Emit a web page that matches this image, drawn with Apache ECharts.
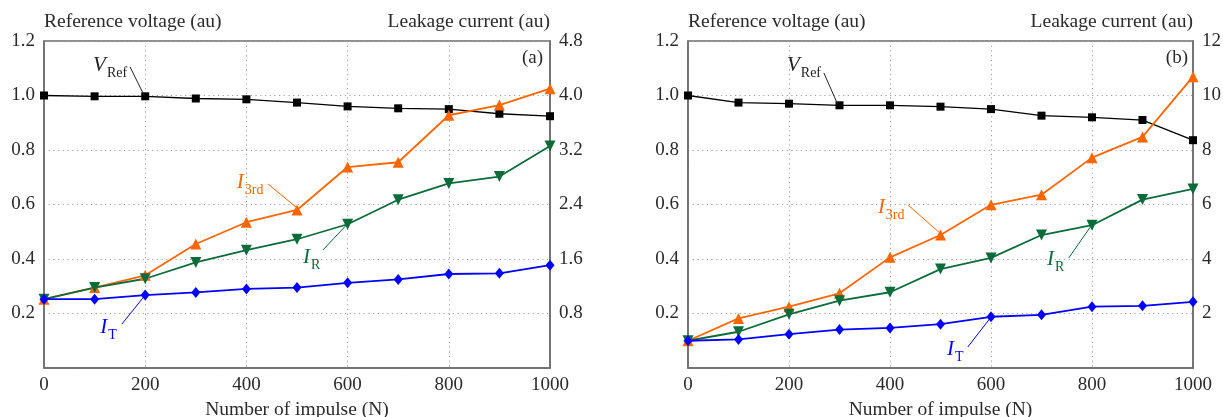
<!DOCTYPE html>
<html>
<head>
<meta charset="utf-8">
<script src="https://cdn.jsdelivr.net/npm/echarts@6/dist/echarts.min.js"></script>
<style>
html,body{margin:0;padding:0;background:#fff;}
#c{width:1223px;height:417px;}
</style>
</head>
<body>
<div id="c"></div>
<script>
// ---- data ----
const impulses = [0, 100, 200, 300, 400, 500, 600, 700, 800, 900, 1000];
const xTicks = [0, 200, 400, 600, 800, 1000];
// Panel (a)
const vrefA = [1.0, 0.997, 0.997, 0.989, 0.986, 0.974, 0.960, 0.953, 0.950, 0.933, 0.924];
const i3rdA = [1.01, 1.18, 1.36, 1.82, 2.14, 2.32, 2.95, 3.02, 3.71, 3.86, 4.10];
const irA   = [1.01, 1.18, 1.31, 1.55, 1.73, 1.89, 2.11, 2.47, 2.71, 2.81, 3.26];
const itA   = [1.01, 1.01, 1.07, 1.11, 1.16, 1.18, 1.25, 1.30, 1.38, 1.39, 1.51];
// Panel (b)
const vrefB = [1.0, 0.974, 0.970, 0.964, 0.964, 0.959, 0.950, 0.926, 0.920, 0.910, 0.836];
const i3rdB = [1.0, 1.82, 2.25, 2.74, 4.06, 4.88, 5.99, 6.36, 7.72, 8.48, 10.69];
const irB   = [1.0, 1.33, 1.97, 2.47, 2.78, 3.63, 4.04, 4.88, 5.24, 6.18, 6.57];
const itB   = [1.0, 1.05, 1.24, 1.41, 1.47, 1.61, 1.88, 1.95, 2.25, 2.28, 2.43];
// axis ranges
const leftAxisMax = 1.2, leftAxisInterval = 0.2;
const rightAxisA = {max: 4.8, interval: 0.8};
const rightAxisB = {max: 12, interval: 2};
// annotation anchors (data coords): label position, leader start, leader end
const notesA = {
  vref: {label: [97, 1.112], from: [170, 1.105], to: [198, 1.0], sub: 'Ref', main: 'V'},
  i3rd: {label: [381, 2.73], from: [443, 2.70], to: [500, 2.35], sub: '3rd', main: 'I'},
  ir:   {label: [512, 1.63], from: [551, 1.73], to: [599, 2.11], sub: 'R', main: 'I'},
  it:   {label: [111, 0.60], from: [154, 0.646], to: [200, 1.07], sub: 'T', main: 'I'}
};
const notesB = {
  vref: {label: [196, 1.112], from: [269, 1.083], to: [297, 0.965], sub: 'Ref', main: 'V'},
  i3rd: {label: [376, 5.91], from: [436, 5.98], to: [499, 4.95], sub: '3rd', main: 'I'},
  ir:   {label: [711, 4.00], from: [754, 4.04], to: [798, 5.21], sub: 'R', main: 'I'},
  it:   {label: [513, 0.70], from: [554, 0.77], to: [600, 1.87], sub: 'T', main: 'I'}
};

const FONT = '"Liberation Serif", "DejaVu Serif", serif';
const TXT = '#2a2a2a';
const AXIS = '#6b6b6b';
const C_V = '#000000', C_3 = '#ff6600', C_R = '#0b6b3a', C_T = '#0000ff';

const chart = echarts.init(document.getElementById('c'), null, {renderer: 'canvas'});

function pairs(arr) { return impulses.map((x, i) => [x, arr[i]]); }

function note(n, color) {
  return {
    markPoint: {
      silent: true, animation: false,
      symbol: 'circle', symbolSize: 0,
      data: [{coord: n.label}],
      label: {
        show: true, position: 'right', distance: 0,
        formatter: '{m|' + n.main + '}{s|' + n.sub + '}',
        rich: {
          m: {fontFamily: FONT, fontStyle: 'italic', fontSize: 21, color: color, lineHeight: 20, verticalAlign: 'top'},
          s: {fontFamily: FONT, fontSize: 14, color: color, lineHeight: 13, padding: [11, 0, 0, 1], verticalAlign: 'top'}
        }
      }
    },
    markLine: {
      silent: true, animation: false,
      symbol: ['none', 'none'],
      lineStyle: {color: color, width: 1, type: 'solid'},
      label: {show: false},
      emphasis: {disabled: true},
      data: [[{coord: n.from}, {coord: n.to}]]
    }
  };
}

function panel(idx, vref, i3rd, ir, it, notes) {
  const yL = idx * 2, yR = idx * 2 + 1;
  const base = {type: 'line', xAxisIndex: idx, animation: false, z: 3};
  return [
    Object.assign({}, base, {name: 'VRef', yAxisIndex: yL, data: pairs(vref), symbol: 'rect', symbolSize: 8,
      lineStyle: {color: C_V, width: 1.3}, itemStyle: {color: C_V}}, note(notes.vref, '#222')),
    Object.assign({}, base, {name: 'I3rd', yAxisIndex: yR, data: pairs(i3rd), symbol: 'triangle', symbolSize: 11,
      lineStyle: {color: C_3, width: 1.8}, itemStyle: {color: C_3}}, note(notes.i3rd, C_3)),
    Object.assign({}, base, {name: 'IR', yAxisIndex: yR, data: pairs(ir), symbol: 'triangle', symbolRotate: 180, symbolSize: 11,
      lineStyle: {color: C_R, width: 1.8}, itemStyle: {color: C_R}}, note(notes.ir, C_R)),
    Object.assign({}, base, {name: 'IT', yAxisIndex: yR, data: pairs(it), symbol: 'diamond', symbolSize: [9, 11],
      lineStyle: {color: C_T, width: 1.8}, itemStyle: {color: C_T}}, note(notes.it, C_T))
  ];
}

const labelStyle = {fontFamily: FONT, fontSize: 19, color: TXT};
const nameStyle = {fontFamily: FONT, fontSize: 19.5, color: TXT};

function xAxis(idx) {
  return {
    type: 'value', gridIndex: idx, min: xTicks[0], max: xTicks[xTicks.length - 1], interval: xTicks[1] - xTicks[0],
    name: 'Number of impulse (N)', nameLocation: 'middle', nameGap: 29,
    nameTextStyle: Object.assign({}, nameStyle),
    axisLine: {show: true, lineStyle: {color: AXIS, width: 1.5}},
    axisTick: {show: false},
    axisLabel: Object.assign({margin: 8, formatter: v => String(v)}, labelStyle),
    splitLine: {show: true, lineStyle: {color: '#a0a0a0', type: [1.2, 3.5], width: 1}}
  };
}
function yLeft(idx) {
  return {
    type: 'value', gridIndex: idx, position: 'left', min: 0, max: leftAxisMax, interval: leftAxisInterval,
    name: 'Reference voltage (au)', nameLocation: 'end', nameGap: 19,
    nameTextStyle: Object.assign({align: 'left', verticalAlign: 'middle'}, nameStyle),
    axisLine: {show: true, lineStyle: {color: AXIS, width: 1.5}},
    axisTick: {show: false},
    axisLabel: Object.assign({margin: 9, formatter: v => v === 0 ? '' : v.toFixed(1)}, labelStyle),
    splitLine: {show: true, lineStyle: {color: '#a0a0a0', type: [1.2, 3.5], width: 1}}
  };
}
function yRight(idx, r, dec) {
  return {
    type: 'value', gridIndex: idx, position: 'right', min: 0, max: r.max, interval: r.interval,
    name: 'Leakage current (au)', nameLocation: 'end', nameGap: 19,
    nameTextStyle: Object.assign({align: 'right', verticalAlign: 'middle'}, nameStyle),
    axisLine: {show: true, lineStyle: {color: AXIS, width: 1.5}},
    axisTick: {show: false},
    axisLabel: Object.assign({margin: 9, formatter: v => v === 0 ? '' : v.toFixed(dec)}, labelStyle),
    splitLine: {show: false}
  };
}

const gridCommon = {show: true, borderColor: AXIS, borderWidth: 1.5, backgroundColor: 'transparent',
  containLabel: false, outerBoundsMode: 'none'};

chart.setOption({
  backgroundColor: '#ffffff',
  animation: false,
  title: [
    {text: '(a)', right: 675, top: 44, textStyle: {fontFamily: FONT, fontSize: 19, fontWeight: 'normal', color: TXT}},
    {text: '(b)', right: 30, top: 44, textStyle: {fontFamily: FONT, fontSize: 19, fontWeight: 'normal', color: TXT}}
  ],
  grid: [
    Object.assign({left: 44, top: 41, width: 506, height: 327}, gridCommon),
    Object.assign({left: 688, top: 41, width: 505, height: 327}, gridCommon)
  ],
  xAxis: [xAxis(0), xAxis(1)],
  yAxis: [yLeft(0), yRight(0, rightAxisA, 1), yLeft(1), yRight(1, rightAxisB, 0)],
  series: [].concat(panel(0, vrefA, i3rdA, irA, itA, notesA), panel(1, vrefB, i3rdB, irB, itB, notesB))
});
</script>
</body>
</html>
